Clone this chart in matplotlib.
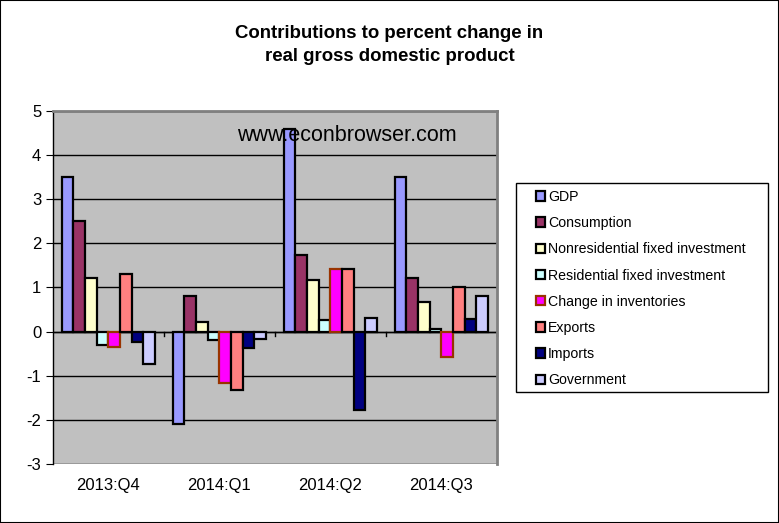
import matplotlib
matplotlib.use("Agg")
import matplotlib.pyplot as plt
import numpy as np
from matplotlib.patches import Rectangle

plt.rcParams['font.family'] = ['Liberation Sans', 'DejaVu Sans']
plt.rcParams['axes.unicode_minus'] = False

categories = ["2013:Q4", "2014:Q1", "2014:Q2", "2014:Q3"]
series_names = ["GDP", "Consumption", "Nonresidential fixed investment",
                "Residential fixed investment", "Change in inventories",
                "Exports", "Imports", "Government"]
gdp = [3.5, -2.1, 4.6, 3.5]
consumption = [2.51, 0.81, 1.74, 1.22]
nonres = [1.22, 0.21, 1.18, 0.68]
resid = [-0.30, -0.18, 0.26, 0.05]
inventories = [-0.35, -1.17, 1.43, -0.57]
exports = [1.30, -1.32, 1.43, 1.02]
imports = [-0.24, -0.37, -1.77, 0.29]
government = [-0.73, -0.17, 0.32, 0.81]
series = [gdp, consumption, nonres, resid, inventories, exports, imports, government]

colors = ["#9999FF", "#993366", "#FFFFCC", "#CCFFFF", "#FF00FF", "#FF8080", "#000080", "#CCCCFF"]
edges = ["black", "black", "black", "black", "#993300", "black", "black", "black"]

fig = plt.figure(figsize=(7.79, 5.23), dpi=100)
fig.patches.append(Rectangle((0, 0), 1, 1, transform=fig.transFigure, fill=False,
                             edgecolor="black", linewidth=1.5))
ax = fig.add_axes([0.068, 0.1128, 0.5696, 0.675])
ax.set_facecolor("#C0C0C0")

x = np.arange(len(categories))
w = 0.105
handles = []
for i, (vals, c, e, name) in enumerate(zip(series, colors, edges, series_names)):
    h = ax.bar(x - 4 * w + (i + 0.5) * w, vals, width=w, color=c, edgecolor=e,
               linewidth=1.6, label=name, zorder=3)
    handles.append(h)

ax.set_xlim(-0.5, 3.5)
ax.set_ylim(-3, 5)
ax.set_yticks(range(-3, 6))
ax.yaxis.grid(True, color="black", linewidth=1, zorder=1)
ax.axhline(0, color="black", linewidth=1, zorder=2)
ax.set_xticks([])
for k, cat in enumerate(categories):
    ax.text(k, -0.04, cat, transform=ax.get_xaxis_transform(), ha="center", va="top", fontsize=12)
# category tick marks on zero line
for k in np.arange(0.5, 3.6, 1.0):
    ax.plot([k, k], [0, -0.1], color="black", linewidth=1, zorder=2, clip_on=False)

ax.tick_params(axis="y", labelsize=12, length=5, direction="out")
for s in ["top", "right"]:
    ax.spines[s].set_color("#808080")
    ax.spines[s].set_linewidth(2)
ax.spines["bottom"].set_visible(False)
ax.spines["left"].set_color("black")
ax.spines["left"].set_linewidth(1)

ax.text((237 - 53) / 443.4, 0.93, "www.econbrowser.com", transform=ax.transAxes,
        ha="left", va="center", fontsize=15.5)

fig.text(0.5, 0.914, "Contributions to percent change in\nreal gross domestic product",
         ha="center", va="center", fontsize=13.4, fontweight="bold", linespacing=1.45)

# legend frame
fig.patches.append(Rectangle((515.7 / 779, 1 - 392 / 523), (768 - 515.7) / 779, (392 - 183) / 523,
                             transform=fig.transFigure, fill=False, edgecolor="black",
                             linewidth=1))
leg = fig.legend(handles=handles, loc="upper left", bbox_to_anchor=(536 / 779, 1 - 190 / 523),
                 frameon=False, fontsize=10.2, labelspacing=0.86, handlelength=0.65,
                 handleheight=0.65, handletextpad=0.2, borderpad=0, borderaxespad=0)

fig.savefig("out.png", dpi=100)
